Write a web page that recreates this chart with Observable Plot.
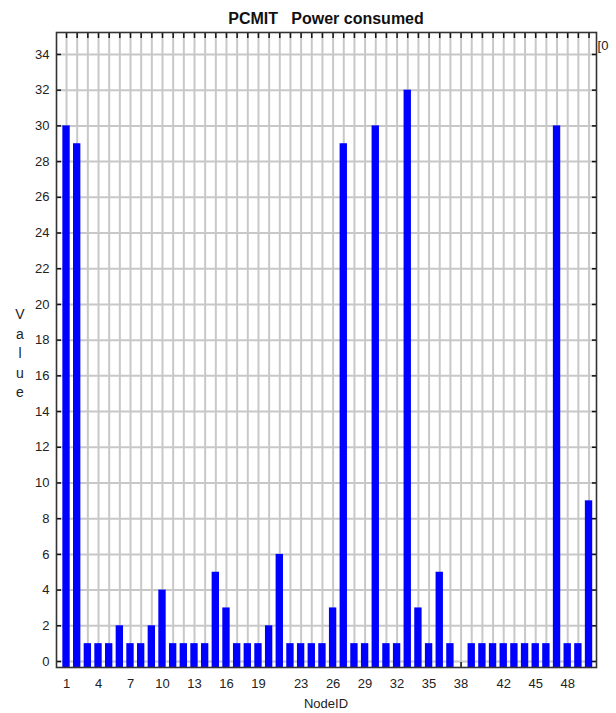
<!DOCTYPE html>
<html>
<head>
<meta charset="utf-8">
<script src="https://cdn.jsdelivr.net/npm/d3@7"></script>
<script src="https://cdn.jsdelivr.net/npm/@observablehq/plot@0.6"></script>
<style>
  html, body { margin: 0; padding: 0; background: #fff; }
  #chart svg { display: block; font-family: "Liberation Sans", Arial, sans-serif; }
</style>
</head>
<body>
<div id="chart"></div>
<script>
// Data
const nodeIds = d3.range(1, 51);
const values = [30, 29, 1, 1, 1, 2, 1, 1, 2, 4,
                1, 1, 1, 1, 5, 3, 1, 1, 1, 2,
                6, 1, 1, 1, 1, 3, 29, 1, 1, 30,
                1, 1, 32, 3, 1, 5, 1, 0, 1, 1,
                1, 1, 1, 1, 1, 1, 30, 1, 1, 9];
const xTickLabels = [1, 4, 7, 10, 13, 16, 19, 23, 26, 29, 32, 35, 38, 42, 45, 48];
const yTickValues = d3.range(0, 35, 2);
const titleText = "PCMIT   Power consumed";
const xLabelText = "NodeID";
const yLabelText = "Value";

const data = nodeIds.map((n, i) => ({node: n, value: values[i]}));
const yMin = -0.336, yMax = 35.23;
const barHalf = 0.345;

const W = 616, H = 713;
const mL = 56, mR = 20, mT = 32, mB = 46;

const plot = Plot.plot({
  width: W,
  height: H,
  marginLeft: mL,
  marginRight: mR,
  marginTop: mT,
  marginBottom: mB,
  style: {fontFamily: '"Liberation Sans", Arial, sans-serif', fontSize: "13px", color: "#222", background: "#fff"},
  x: {type: "linear", domain: [0.06, 50.7]},
  y: {domain: [yMin, yMax]},
  marks: [
    Plot.gridX(nodeIds, {stroke: "#c8c8c8", strokeWidth: 2, strokeOpacity: 1}),
    Plot.gridY(yTickValues, {stroke: "#c8c8c8", strokeWidth: 2, strokeOpacity: 1}),
    // inward ticks
    Plot.axisX(nodeIds, {anchor: "top", tickSize: -5, text: null, label: null, stroke: "#111", strokeWidth: 1.5}),
    Plot.axisX(nodeIds, {anchor: "bottom", tickSize: -5, text: null, label: null, stroke: "#111", strokeWidth: 1.5}),
    Plot.axisY(yTickValues, {anchor: "left", tickSize: -5, text: null, label: null, stroke: "#111", strokeWidth: 1.5}),
    Plot.axisY(yTickValues, {anchor: "right", tickSize: -5, text: null, label: null, stroke: "#111", strokeWidth: 1.5}),
    Plot.rectY(data, {
      filter: d => d.value > 0,
      x1: d => d.node - barHalf,
      x2: d => d.node + barHalf,
      y1: () => yMin,
      y2: "value",
      fill: "#0000ff"
    }),
    // labels
    Plot.axisX(xTickLabels, {anchor: "bottom", tickSize: 0, tickPadding: 11, label: null, fill: "#222", fontSize: 13}),
    Plot.axisY(yTickValues, {anchor: "left", tickSize: 0, tickPadding: 7, label: null, fill: "#222", fontSize: 13}),
    Plot.frame({stroke: "#333", strokeWidth: 1.6})
  ]
});

const svg = d3.select(plot);
svg.append("text")
  .attr("x", mL + (W - mL - mR) / 2)
  .attr("y", 18)
  .attr("text-anchor", "middle")
  .attr("dominant-baseline", "central")
  .attr("font-weight", "bold")
  .attr("font-size", 16)
  .attr("fill", "#111")
  .text(titleText);

svg.append("text")
  .attr("x", mL + (W - mL - mR) / 2)
  .attr("y", 703)
  .attr("text-anchor", "middle")
  .attr("dominant-baseline", "central")
  .attr("font-size", 13)
  .attr("fill", "#222")
  .text(xLabelText);

const yl = svg.append("text")
  .attr("text-anchor", "middle")
  .attr("font-size", 14)
  .attr("fill", "#222");
yLabelText.split("").forEach((ch, i) => {
  yl.append("tspan")
    .attr("x", 20)
    .attr("y", 319 + i * 19.5)
    .text(ch);
});

svg.append("text")
  .attr("x", 603)
  .attr("y", 50)
  .attr("font-size", 13)
  .attr("fill", "#222")
  .text("[0");

document.getElementById("chart").appendChild(plot);
</script>
</body>
</html>
